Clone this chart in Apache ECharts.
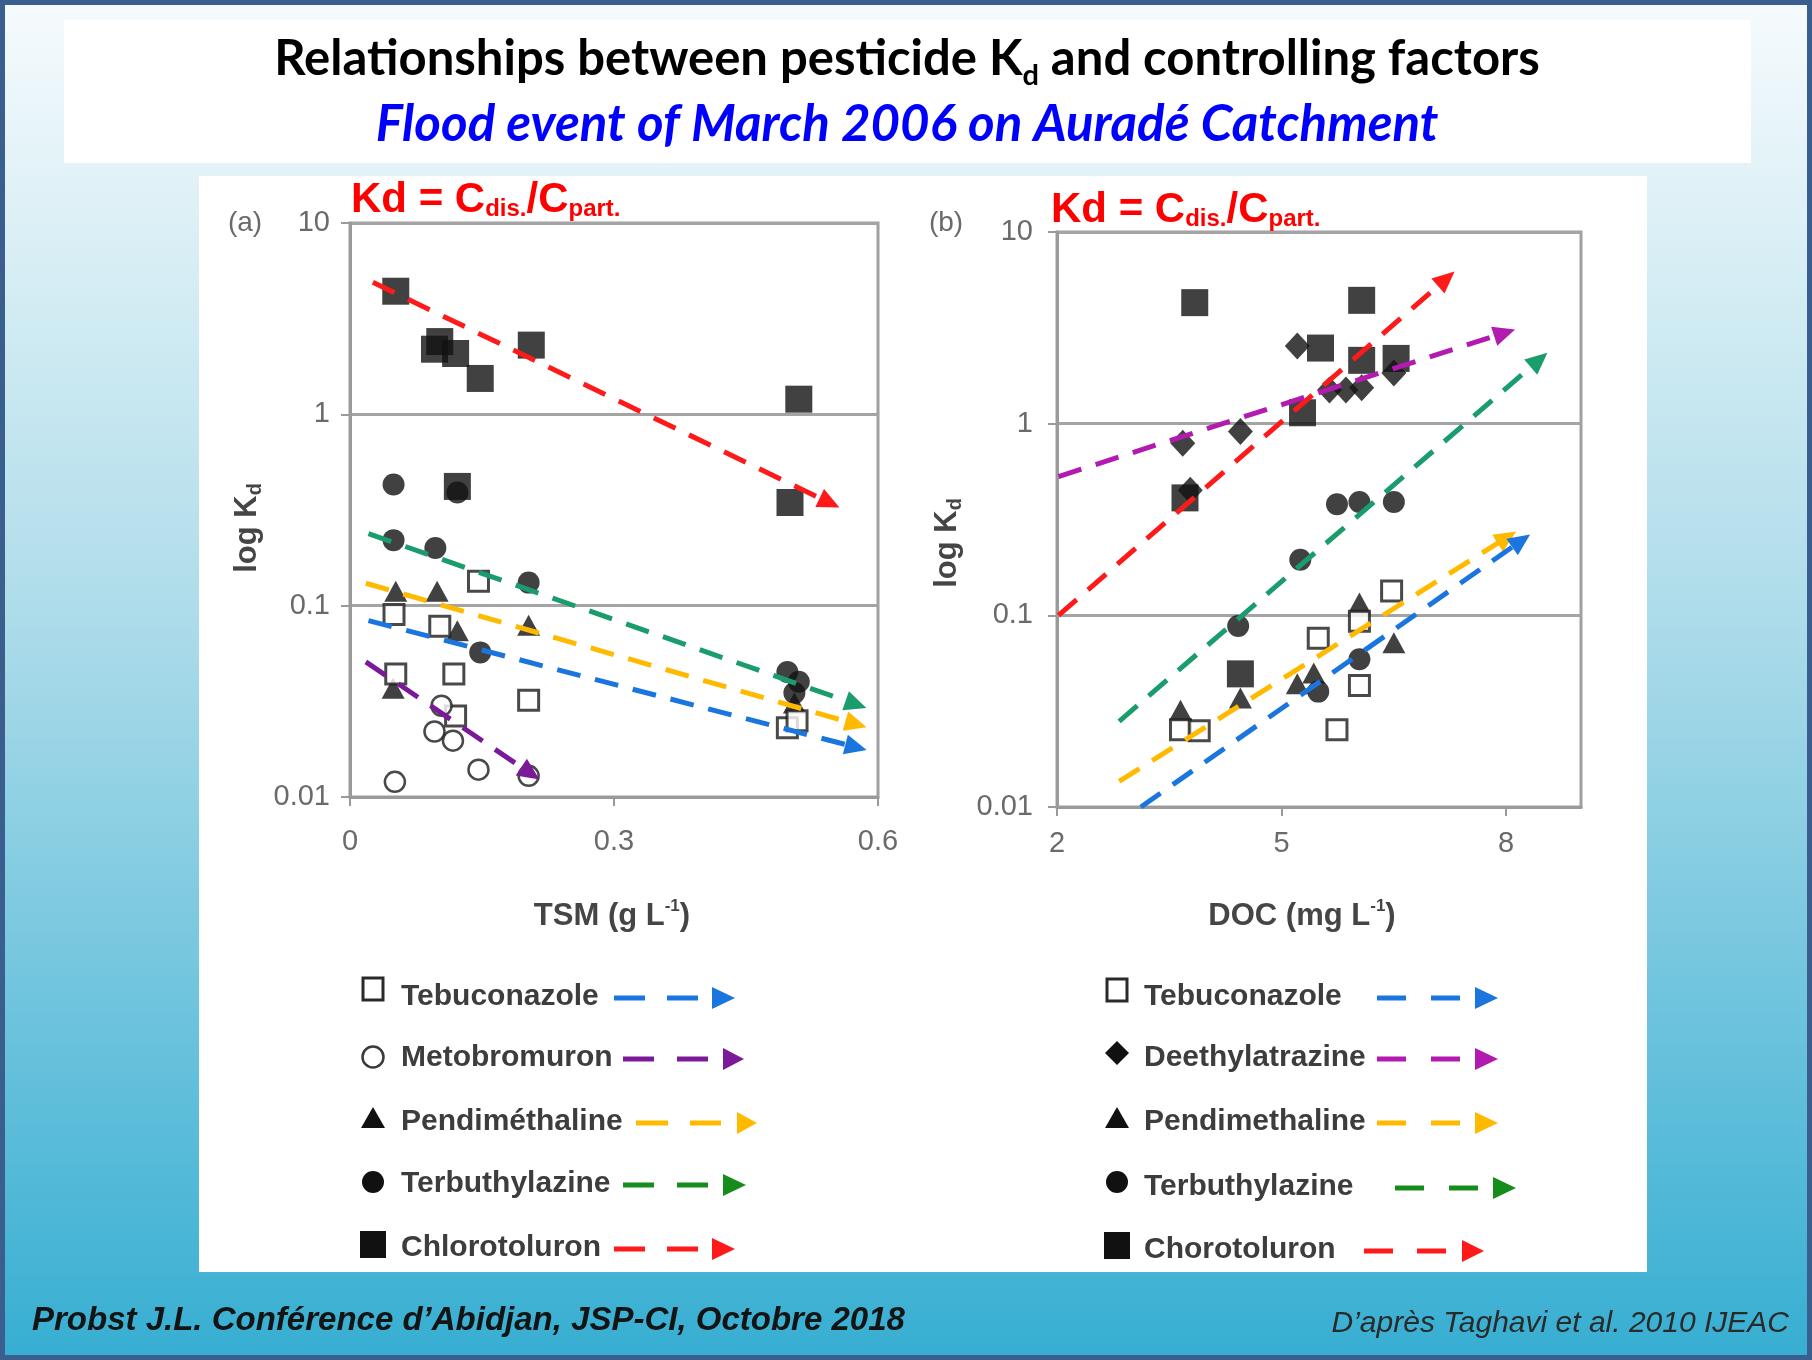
<!DOCTYPE html>
<html><head><meta charset="utf-8">
<script src="https://cdn.jsdelivr.net/npm/echarts@6/dist/echarts.min.js"></script>
<style>html,body{margin:0;padding:0;background:#fff}#c{width:1812px;height:1360px}</style>
</head><body><div id="c"></div>
<script>
// ---------------- DATA ----------------
// Panel (a): TSM (g/L) vs Kd
const tsmTebuconazole   = [[0.050,0.090],[0.102,0.078],[0.146,0.134],[0.052,0.044],[0.118,0.044],[0.203,0.032],[0.120,0.0265],[0.497,0.023],[0.508,0.025]];
const tsmMetobromuron   = [[0.051,0.012],[0.104,0.030],[0.096,0.022],[0.117,0.0197],[0.146,0.0139],[0.203,0.0129]];
const tsmPendimethaline = [[0.052,0.119],[0.099,0.119],[0.122,0.074],[0.203,0.079],[0.049,0.037],[0.505,0.031]];
const tsmTerbuthylazine = [[0.0495,0.43],[0.0495,0.22],[0.097,0.20],[0.122,0.39],[0.203,0.132],[0.148,0.057],[0.497,0.045],[0.510,0.040],[0.505,0.035]];
const tsmChlorotoluron  = [[0.052,4.4],[0.102,2.4],[0.096,2.19],[0.120,2.08],[0.148,1.54],[0.206,2.3],[0.510,1.2],[0.500,0.346],[0.122,0.42]];
// trend arrows (start, end)
const tsmTrendTebuconazole   = [[0.021,0.0836],[0.575,0.0182]];
const tsmTrendMetobromuron   = [[0.018,0.0508],[0.205,0.0133]];
const tsmTrendPendimethaline = [[0.018,0.131],[0.575,0.0240]];
const tsmTrendTerbuthylazine = [[0.021,0.238],[0.575,0.0305]];
const tsmTrendChlorotoluron  = [[0.026,4.9],[0.545,0.345]];

// Panel (b): DOC (mg/L) vs Kd
const docTebuconazole    = [[6.47,0.134],[5.49,0.076],[6.04,0.093],[6.04,0.043],[5.74,0.0253],[3.65,0.0253],[3.90,0.025]];
const docDeethylatrazine = [[5.21,2.54],[3.68,0.79],[4.45,0.91],[5.64,1.5],[5.86,1.5],[6.07,1.54],[6.50,1.84],[3.78,0.45]];
const docPendimethaline  = [[3.65,0.032],[4.45,0.037],[5.21,0.044],[6.04,0.116],[6.50,0.072],[5.43,0.05]];
const docTerbuthylazine  = [[5.74,0.38],[6.04,0.39],[6.50,0.39],[5.25,0.195],[4.42,0.088],[6.04,0.059],[5.49,0.040]];
const docChorotoluron    = [[3.84,4.28],[6.07,4.4],[5.52,2.48],[5.28,1.14],[6.07,2.14],[6.53,2.19],[3.71,0.41],[4.45,0.0495]];
const docTrendTebuconazole    = [[3.12,0.0100],[8.20,0.245]];
const docTrendDeethylatrazine = [[2.02,0.53],[7.98,2.98]];
const docTrendPendimethaline  = [[2.83,0.0136],[8.01,0.255]];
const docTrendTerbuthylazine  = [[2.83,0.028],[8.44,2.15]];
const docTrendChorotoluron    = [[2.02,0.100],[7.20,5.7]];

// axis ticks / labels
const tsmTicks = [0, 0.3, 0.6];
const tsmTickLabels = ['0', '0.3', '0.6'];
const docTicks = [2, 5, 8];
const docTickLabels = ['2', '5', '8'];
const kdTickLabels = ['0.01', '0.1', '1', '10'];   // 10^-2 .. 10^1

// texts
const titleText = 'Relationships between pesticide K';
const titleSub = 'd';
const titleRest = ' and controlling factors';
const subtitleText = 'Flood event of March 2006 on Auradé Catchment';
const leftLegendNames  = ['Tebuconazole','Metobromuron','Pendiméthaline','Terbuthylazine','Chlorotoluron'];
const rightLegendNames = ['Tebuconazole','Deethylatrazine','Pendimethaline','Terbuthylazine','Chorotoluron'];
const footerLeft = 'Probst J.L. Conférence d\u2019Abidjan, JSP-CI, Octobre 2018';
const footerRight = 'D\u2019après Taghavi et al. 2010 IJEAC';

// ---------------- STYLE ----------------
const FONT = '"Liberation Sans", Arial, Helvetica, sans-serif';
const C = {
  blue:'#1a76de', purpleL:'#7a1a98', purpleR:'#b21ab0', yellow:'#ffba00',
  greenLine:'#1a9c6c', greenLeg:'#168c1a', red:'#ff1a1a'
};
const MARK = {
  openSquare:{symbol:'rect', symbolSize:20, itemStyle:{color:'#ffffff', borderColor:'#1c1c1c', borderWidth:3}},
  openCircle:{symbol:'circle', symbolSize:20, itemStyle:{color:'#ffffff', borderColor:'#1c1c1c', borderWidth:2.5}},
  triangle:{symbol:'triangle', symbolSize:[23,21], itemStyle:{color:'#111'}},
  dot:{symbol:'circle', symbolSize:22, itemStyle:{color:'#111'}},
  square:{symbol:'rect', symbolSize:27, itemStyle:{color:'#111'}},
  diamond:{symbol:'diamond', symbolSize:[25,27], itemStyle:{color:'#111'}}
};

function scatter(idx, data, mk, name) {
  return Object.assign({type:'scatter', name, xAxisIndex:idx, yAxisIndex:idx, data, z:2,
    emphasis:{disabled:true}}, JSON.parse(JSON.stringify(MARK[mk])));
}
function trend(idx, pts, color) {
  return {type:'scatter', xAxisIndex:idx, yAxisIndex:idx, data:[], z:5, silent:true,
    markLine:{silent:true, symbol:['none','triangle'], symbolSize:[20,22], label:{show:false},
      emphasis:{disabled:true}, animation:false,
      lineStyle:{color, width:5, type:[24,15], opacity:1},
      data:[[{coord:pts[0]},{coord:pts[1]}]]}};
}

const yAxisBase = (idx) => ({
  type:'log', logBase:10, min:0.01, max:10, gridIndex:idx,
  axisLine:{show:true, lineStyle:{color:'#9a9a9a', width:3}},
  axisTick:{show:true, inside:false, length:9, lineStyle:{color:'#9a9a9a', width:2}},
  splitLine:{show:true, lineStyle:{color:'#a4a4a4', width:3}},
  axisLabel:{color:'#6a6a6a', fontSize:29, fontFamily:FONT, margin:idx===0?20:24,
    formatter:(v)=>kdTickLabels[Math.round(Math.log10(v))+2]}
});
const xAxisBase = (idx, min, max, ticks, labels, margin) => ({
  type:'value', min, max, gridIndex:idx,
  axisLine:{show:true, onZero:false, lineStyle:{color:'#9a9a9a', width:3}},
  axisTick:{show:true, length:9, customValues:ticks, lineStyle:{color:'#9a9a9a', width:2}},
  splitLine:{show:false},
  axisLabel:{color:'#6a6a6a', fontSize:29, fontFamily:FONT, margin, customValues:ticks,
    formatter:(v)=>{const i=ticks.findIndex(t=>Math.abs(t-v)<1e-9); return i>=0?labels[i]:'';}}
});

// ---------------- GRAPHICS (decoration, titles, legends) ----------------
const G = [];
G.push({type:'rect', z:-20, silent:true, shape:{x:0,y:0,width:1812,height:1360},
  style:{fill:{type:'linear',x:0,y:0,x2:0,y2:1,colorStops:[
    {offset:0,color:'#f6fbfd'},{offset:0.45,color:'#aedcea'},{offset:1,color:'#36aed2'}]}}});
G.push({type:'rect', z:-19, silent:true, shape:{x:64,y:20,width:1687,height:143}, style:{fill:'#ffffff'}});
G.push({type:'rect', z:-19, silent:true, shape:{x:199,y:176,width:1448,height:1096}, style:{fill:'#ffffff'}});
G.push({type:'rect', z:50, silent:true, shape:{x:2.5,y:2.5,width:1807,height:1355},
  style:{fill:null, stroke:'#3a5f8f', lineWidth:5}});

function txt(x, y, text, opt) {
  return Object.assign({type:'text', z:60, silent:true, x, y,
    style:Object.assign({text, fontFamily:FONT, fill:'#333', align:'left', verticalAlign:'middle'}, opt.style)},
    opt.el || {});
}
// title
G.push(txt(907, 28, '{a|'+titleText+'}{s|'+titleSub+'}{a|'+titleRest+'}', {style:{align:'center', verticalAlign:'top',
  rich:{a:{fontFamily:'Lato', fontWeight:'bold', fontSize:49, lineHeight:62, fill:'#000'},
        s:{fontFamily:'Lato', fontWeight:'bold', fontSize:29, lineHeight:29, verticalAlign:'bottom', fill:'#000'}}}}));
G.push(txt(907, 125, subtitleText, {style:{align:'center', fontFamily:'Lato', fontWeight:'bold', fontStyle:'italic',
  fontSize:51, fill:'#0000ff'}}));
// Kd formula
function kdFormula(x, top) {
  return txt(x, top, '{a|Kd = C}{s|dis.}{a|/C}{s|part.}', {style:{verticalAlign:'top',
    rich:{a:{fontFamily:FONT, fontWeight:'bold', fontSize:42, lineHeight:42, fill:'#ff0000'},
          s:{fontFamily:FONT, fontWeight:'bold', fontSize:24, lineHeight:24, verticalAlign:'bottom', fill:'#ff0000'}}}});
}
G.push(kdFormula(351, 179));
G.push(kdFormula(1051, 189));
G.push(txt(245, 223, '(a)', {style:{align:'center', fontSize:28, fill:'#6a6a6a'}}));
G.push(txt(946, 223, '(b)', {style:{align:'center', fontSize:28, fill:'#6a6a6a'}}));
// axis names
function axName(x, y, a, sup) {
  return txt(x, y, '{a|'+a+'}{u|'+sup+'}{a|)}', {style:{align:'center',
    rich:{a:{fontFamily:FONT, fontWeight:'bold', fontSize:31, lineHeight:36, fill:'#454545'},
          u:{fontFamily:FONT, fontWeight:'bold', fontSize:17, lineHeight:17, verticalAlign:'top', fill:'#454545'}}}});
}
G.push(axName(612, 916, 'TSM (g L', '-1'));
G.push(axName(1302, 916, 'DOC (mg L', '-1'));
function logKd(x, y) {
  return txt(x, y, '{a|log K}{s|d}', {el:{rotation:Math.PI/2}, style:{align:'center',
    rich:{a:{fontFamily:FONT, fontWeight:'bold', fontSize:31, lineHeight:36, fill:'#454545'},
          s:{fontFamily:FONT, fontWeight:'bold', fontSize:20, lineHeight:20, verticalAlign:'bottom', fill:'#454545'}}}});
}
G.push(logKd(247, 528));
G.push(logKd(947, 543));
// footers
G.push(txt(32, 1321, footerLeft, {style:{fontWeight:'bold', fontStyle:'italic', fontSize:33, fill:'#141414'}}));
G.push(txt(1789, 1324, footerRight, {style:{align:'right', fontStyle:'italic', fontSize:30, fill:'#2a2a2a'}}));

// legends
function legMarker(kind, x, y) {
  if (kind==='openSquare') return {type:'rect', z:60, silent:true, shape:{x:x-10,y:y-11,width:20,height:22}, style:{fill:'#fff', stroke:'#2a2a2a', lineWidth:3}};
  if (kind==='openCircle') return {type:'circle', z:60, silent:true, shape:{cx:x,cy:y,r:10.5}, style:{fill:'#fff', stroke:'#3a3a3a', lineWidth:2.5}};
  if (kind==='triangle') return {type:'polygon', z:60, silent:true, shape:{points:[[x,y-11],[x+12,y+10],[x-12,y+10]]}, style:{fill:'#111'}};
  if (kind==='dot') return {type:'circle', z:60, silent:true, shape:{cx:x,cy:y,r:11}, style:{fill:'#111'}};
  if (kind==='square') return {type:'rect', z:60, silent:true, shape:{x:x-13,y:y-13,width:26,height:27}, style:{fill:'#111'}};
  if (kind==='diamond') return {type:'polygon', z:60, silent:true, shape:{points:[[x,y-12],[x+12,y],[x,y+12],[x-12,y]]}, style:{fill:'#111'}};
}
function legArrow(d1, d2, a, y, color) {
  const out = [];
  [d1, d2].forEach(d => out.push({type:'line', z:60, silent:true, shape:{x1:d[0],y1:y,x2:d[1],y2:y}, style:{stroke:color, lineWidth:5}}));
  out.push({type:'polygon', z:60, silent:true, shape:{points:[[a[0],y-11],[a[1],y],[a[0],y+11]]}, style:{fill:color}});
  return out;
}
const leftLegLayout = {
  kinds:['openSquare','openCircle','triangle','dot','square'],
  colors:[C.blue, C.purpleL, C.yellow, C.greenLeg, C.red],
  my:[989,1057,1118,1182,1244], ty:[997,1058,1122,1184,1248], mx:373, tx:401,
  d1:[[614,645],[623,654],[636,668],[623,654],[614,645]],
  d2:[[667,698],[677,708],[690,721],[677,708],[667,698]],
  ar:[[712,735],[723,744],[737,757],[723,746],[712,735]]
};
const rightLegLayout = {
  kinds:['openSquare','diamond','triangle','dot','square'],
  colors:[C.blue, C.purpleR, C.yellow, C.greenLeg, C.red],
  my:[990,1053,1118,1182,1245], ty:[997,1058,1122,1187,1250], mx:1117, tx:1144,
  d1:[[1377,1406],[1377,1406],[1377,1406],[1395,1424],[1364,1393]],
  d2:[[1431,1460],[1431,1460],[1431,1460],[1449,1478],[1417,1446]],
  ar:[[1475,1498],[1475,1498],[1475,1498],[1493,1516],[1462,1484]]
};
function addLegend(names, L) {
  names.forEach((n, i) => {
    G.push(legMarker(L.kinds[i], L.mx, L.my[i]));
    G.push(txt(L.tx, L.ty[i], n, {style:{fontWeight:'bold', fontSize:30, fill:'#3d3d3d'}}));
    legArrow(L.d1[i], L.d2[i], L.ar[i], L.ty[i]+1, L.colors[i]).forEach(e => G.push(e));
  });
}
addLegend(leftLegendNames, leftLegLayout);
addLegend(rightLegendNames, rightLegLayout);

// ---------------- CHART ----------------
const chart = echarts.init(document.getElementById('c'), null, {renderer:'canvas', width:1812, height:1360});
chart.setOption({
  animation:false,
  backgroundColor:'transparent',
  grid:[
    {left:350, top:223, width:528, height:574, show:true, backgroundColor:'#fff', borderColor:'#a0a0a0', borderWidth:3, containLabel:false},
    {left:1057, top:232, width:524, height:575, show:true, backgroundColor:'#fff', borderColor:'#a0a0a0', borderWidth:3, containLabel:false}
  ],
  xAxis:[ xAxisBase(0, 0, 0.6, tsmTicks, tsmTickLabels, 30), xAxisBase(1, 2, 9, docTicks, docTickLabels, 22) ],
  yAxis:[ yAxisBase(0), yAxisBase(1) ],
  graphic:{elements:G},
  series:[
    scatter(0, tsmPendimethaline, 'triangle', 'Pendiméthaline'),
    scatter(0, tsmTerbuthylazine, 'dot', 'Terbuthylazine'),
    scatter(0, tsmChlorotoluron, 'square', 'Chlorotoluron'),
    scatter(0, tsmTebuconazole, 'openSquare', 'Tebuconazole'),
    scatter(0, tsmMetobromuron, 'openCircle', 'Metobromuron'),
    trend(0, tsmTrendChlorotoluron, C.red),
    trend(0, tsmTrendTerbuthylazine, C.greenLine),
    trend(0, tsmTrendPendimethaline, C.yellow),
    trend(0, tsmTrendTebuconazole, C.blue),
    trend(0, tsmTrendMetobromuron, C.purpleL),

    scatter(1, docTerbuthylazine, 'dot', 'Terbuthylazine'),
    scatter(1, docPendimethaline, 'triangle', 'Pendimethaline'),
    scatter(1, docDeethylatrazine, 'diamond', 'Deethylatrazine'),
    scatter(1, docChorotoluron, 'square', 'Chorotoluron'),
    scatter(1, docTebuconazole, 'openSquare', 'Tebuconazole'),
    trend(1, docTrendChorotoluron, C.red),
    trend(1, docTrendDeethylatrazine, C.purpleR),
    trend(1, docTrendTerbuthylazine, C.greenLine),
    trend(1, docTrendPendimethaline, C.yellow),
    trend(1, docTrendTebuconazole, C.blue)
  ]
});
</script>
</body></html>
